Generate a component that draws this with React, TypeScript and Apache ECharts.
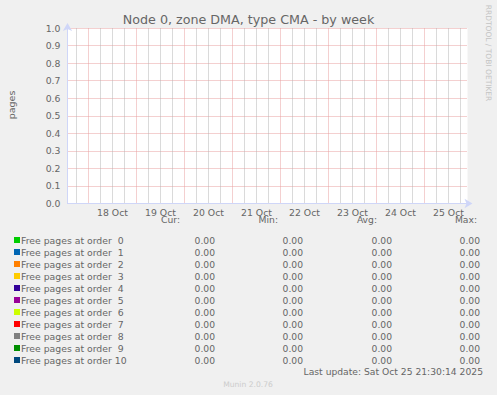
import React, { useEffect, useRef } from "react";
import * as echarts from "echarts";

const TITLE = "Node 0, zone DMA, type CMA - by week";
const Y_LABEL = "pages";
const LAST_UPDATE = "Last update: Sat Oct 25 21:30:14 2025";
const FOOTER = "Munin 2.0.76";
const WATERMARK = "RRDTOOL / TOBI OETIKER";

const START = "2025-10-17T13:30:14Z";
const END = "2025-10-25T21:30:14Z";

const yTickLabels = ["0.0", "0.1", "0.2", "0.3", "0.4", "0.5", "0.6", "0.7", "0.8", "0.9", "1.0"];
const dayLabels = ["18 Oct", "19 Oct", "20 Oct", "21 Oct", "22 Oct", "23 Oct", "24 Oct", "25 Oct"];
const dayNoons = [
  "2025-10-18T12:00:00Z", "2025-10-19T12:00:00Z", "2025-10-20T12:00:00Z", "2025-10-21T12:00:00Z",
  "2025-10-22T12:00:00Z", "2025-10-23T12:00:00Z", "2025-10-24T12:00:00Z", "2025-10-25T12:00:00Z",
];

const seriesNames = [
  "Free pages at order  0", "Free pages at order  1", "Free pages at order  2", "Free pages at order  3",
  "Free pages at order  4", "Free pages at order  5", "Free pages at order  6", "Free pages at order  7",
  "Free pages at order  8", "Free pages at order  9", "Free pages at order 10",
];
const seriesColors = [
  "#00cc00", "#0066b3", "#ff8000", "#ffcc00", "#330099", "#990099",
  "#ccff00", "#ff0000", "#808080", "#008f00", "#00487d",
];

const sampleTimes = [
  "2025-10-17T13:30:14Z", "2025-10-18T13:30:14Z", "2025-10-19T13:30:14Z", "2025-10-20T13:30:14Z",
  "2025-10-21T13:30:14Z", "2025-10-22T13:30:14Z", "2025-10-23T13:30:14Z", "2025-10-24T13:30:14Z",
  "2025-10-25T21:30:14Z",
];
const order0 = [0, 0, 0, 0, 0, 0, 0, 0, 0];
const order1 = [0, 0, 0, 0, 0, 0, 0, 0, 0];
const order2 = [0, 0, 0, 0, 0, 0, 0, 0, 0];
const order3 = [0, 0, 0, 0, 0, 0, 0, 0, 0];
const order4 = [0, 0, 0, 0, 0, 0, 0, 0, 0];
const order5 = [0, 0, 0, 0, 0, 0, 0, 0, 0];
const order6 = [0, 0, 0, 0, 0, 0, 0, 0, 0];
const order7 = [0, 0, 0, 0, 0, 0, 0, 0, 0];
const order8 = [0, 0, 0, 0, 0, 0, 0, 0, 0];
const order9 = [0, 0, 0, 0, 0, 0, 0, 0, 0];
const order10 = [0, 0, 0, 0, 0, 0, 0, 0, 0];
const seriesValues = [order0, order1, order2, order3, order4, order5, order6, order7, order8, order9, order10];

const curValues = [0, 0, 0, 0, 0, 0, 0, 0, 0, 0, 0];
const minValues = [0, 0, 0, 0, 0, 0, 0, 0, 0, 0, 0];
const avgValues = [0, 0, 0, 0, 0, 0, 0, 0, 0, 0, 0];
const maxValues = [0, 0, 0, 0, 0, 0, 0, 0, 0, 0, 0];

const FONT = "DejaVu Sans";
const TEXT = "#666666";
const AXIS = "#cfd6f8";
const MAJOR = "#e9a0a0";
const MINOR = "#b5b5b5";

export default function App() {
  const ref = useRef<HTMLDivElement>(null);

  useEffect(() => {
    document.body.style.margin = "0";
    if (!ref.current) return;
    const chart = echarts.init(ref.current, undefined, { renderer: "svg" });

    const t0 = Date.parse(START);
    const t1 = Date.parse(END);
    const H6 = 6 * 3600 * 1000;
    const noonVals = dayNoons.map((s) => Date.parse(s));

    // vertical grid line positions (6-hourly minor, midnight major)
    const gridLines: any[] = [];
    for (let g = Math.ceil(t0 / H6) * H6; g < t1; g += H6) {
      const isMidnight = g % (4 * H6) === 0;
      gridLines.push({
        xAxis: g,
        lineStyle: { color: isMidnight ? MAJOR : MINOR, type: [1, 1], width: 1 },
      });
    }

    const series: any[] = seriesNames.map((name, i) => ({
      name,
      type: "line",
      data: sampleTimes.map((t, k) => [Date.parse(t), seriesValues[i][k]]),
      showSymbol: false,
      lineStyle: { width: 1, color: seriesColors[i] },
      itemStyle: { color: seriesColors[i] },
      z: 1,
      silent: true,
    }));
    series[0].markLine = {
      silent: true,
      symbol: ["none", "none"],
      label: { show: false },
      emphasis: { disabled: true },
      data: gridLines,
    };

    const graphics: any[] = [];
    const txt = (text: string, x: number, y: number, size: number, fill: string, align = "left", extra: any = {}) => ({
      type: "text",
      x,
      y,
      silent: true,
      z: 100,
      ...extra,
      style: {
        text,
        fontSize: size,
        fontFamily: FONT,
        fill,
        align,
        textAlign: align,
        verticalAlign: "middle",
        textVerticalAlign: "middle",
      },
    });

    graphics.push(txt(Y_LABEL, 11, 105, 9.5, TEXT, "center", { rotation: Math.PI / 2 }));
    graphics.push(txt(WATERMARK, 488, 53, 7.5, "#c4c4c4", "center", { rotation: -Math.PI / 2 }));

    const colRight = [180, 278, 377, 477];
    const valRight = [215, 303, 392, 480];
    const headers = ["Cur:", "Min:", "Avg:", "Max:"];
    headers.forEach((h, k) => graphics.push(txt(h, colRight[k], 219, 9.2, TEXT, "right")));

    seriesNames.forEach((name, i) => {
      const y = 240 + i * 12;
      graphics.push({
        type: "rect",
        silent: true,
        shape: { x: 14, y: y - 3, width: 6, height: 6 },
        style: { fill: seriesColors[i] },
      });
      graphics.push(txt(name, 21, y, 9.3, TEXT, "left"));
      const vals = [curValues[i], minValues[i], avgValues[i], maxValues[i]];
      vals.forEach((v, k) => graphics.push(txt(v.toFixed(2), valRight[k], y, 9.2, TEXT, "right")));
    });

    graphics.push(txt(LAST_UPDATE, 483, 371, 9.2, TEXT, "right"));
    graphics.push(txt(FOOTER, 248, 384, 7.6, "#cccccc", "center"));

    chart.setOption({
      animation: false,
      backgroundColor: "#f0f0f0",
      title: {
        text: TITLE,
        left: "center",
        top: 12,
        padding: 0,
        textStyle: { fontFamily: FONT, fontSize: 12.7, fontWeight: "normal", color: TEXT, lineHeight: 15 },
      },
      grid: {
        left: 67.5,
        top: 28,
        width: 400,
        height: 175.5,
        show: true,
        backgroundColor: "#ffffff",
        borderWidth: 0,
      },
      xAxis: {
        type: "value",
        min: t0,
        max: t1,
        z: 5,
        axisLine: {
          show: true,
          lineStyle: { color: AXIS, width: 1 },
          symbol: ["none", "arrow"],
          symbolSize: [7, 8],
          symbolOffset: [0, 5],
        },
        axisTick: { show: false },
        splitLine: { show: false },
        axisLabel: {
          customValues: noonVals,
          formatter: (v: number) => {
            const idx = noonVals.indexOf(v);
            return idx >= 0 ? dayLabels[idx] : "";
          },
          fontFamily: FONT,
          fontSize: 9.3,
          color: TEXT,
          margin: 4,
        },
      },
      yAxis: {
        type: "value",
        min: 0,
        max: 1,
        interval: 0.1,
        z: 5,
        axisLine: {
          show: true,
          lineStyle: { color: AXIS, width: 1 },
          symbol: ["none", "arrow"],
          symbolSize: [7, 8],
          symbolOffset: [0, 5],
        },
        axisTick: { show: false },
        splitLine: { show: true, lineStyle: { color: MAJOR, type: [1, 1], width: 1 } },
        axisLabel: {
          formatter: (_v: number, i: number) => yTickLabels[i],
          fontFamily: FONT,
          fontSize: 9.3,
          color: TEXT,
          margin: 7,
        },
      },
      series,
      graphic: graphics,
    });

    return () => chart.dispose();
  }, []);

  return <div ref={ref} style={{ width: 497, height: 395 }} />;
}
